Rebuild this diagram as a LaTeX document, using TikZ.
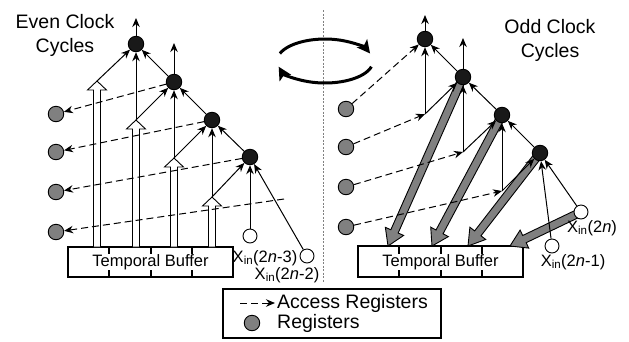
\documentclass[tikz,border=0pt]{standalone}
\usepackage{fontspec}
\setmainfont{Liberation Sans}
\usetikzlibrary{arrows.meta,calc}
\definecolor{regfill}{gray}{0.5}
\definecolor{nodefill}{gray}{0.1}
\pgfdeclarelayer{bg}
\pgfsetlayers{bg,main}
% #1 start, #2 end, #3 fill, #4 shaft half width, #5 head half width, #6 head length
\newcommand{\fatarrow}[6]{%
  \coordinate (fah) at ($(#2)!#6!(#1)$);
  \filldraw[fill=#3,draw=black,line width=0.9pt,line join=miter]
   ($(#1)!#4!90:(#2)$) -- ($(fah)!#4!90:(#2)$) -- ($(fah)!#5!90:(#2)$) -- (#2)
   -- ($(fah)!#5!-90:(#2)$) -- ($(fah)!#4!-90:(#2)$) -- ($(#1)!#4!-90:(#2)$) -- cycle;}
\tikzset{
 blk/.style={circle, fill=nodefill, draw=black, line width=0.9pt, minimum size=15.5pt, inner sep=0pt},
 reg/.style={circle, fill=regfill, draw=black, line width=0.9pt, minimum size=15.5pt, inner sep=0pt},
 inp/.style={circle, fill=white, draw=black, line width=0.9pt, minimum size=14pt, inner sep=0pt},
 arr/.style={line width=1pt, -{Stealth[length=9pt,width=7.5pt]}},
 acc/.style={arr, dash pattern=on 7pt off 4pt},
 lbl/.style={font=\fontsize{16.5}{19}\selectfont, inner sep=0pt},
 ttl/.style={font=\fontsize{19.5}{24}\selectfont, inner sep=0pt, anchor=base},
 buf/.style={font=\fontsize{16.5}{19}\selectfont, inner sep=0pt, fill=white},
 cyc/.style={line width=3pt, -{Stealth[length=13pt,width=13pt,inset=3pt]}},
}
\begin{document}
\begin{tikzpicture}[x=1pt,y=-1pt]
\useasboundingbox (0,0) rectangle (629,341);
% ---------------- titles
\node[ttl] (tl1) at (65,28) {Even Clock};
\node[ttl] (tl2) at (65,52) {Cycles};
\node[ttl] (tr1) at (550,33) {Odd Clock};
\node[ttl] (tr2) at (550,57) {Cycles};
% ---------------- divider
\draw[gray, line width=0.9pt, dash pattern=on 2pt off 1.5pt] (323,10) -- (323,282);
% ---------------- cycle arrows
\draw[cyc] (279.9,53.5) arc[start angle=160, end angle=20, x radius=48pt, y radius=22pt];
\draw[cyc] (371.4,66.7) arc[start angle=-15, end angle=-165, x radius=48pt, y radius=22pt];
% ---------------- left side nodes
\node[blk] (b1) at (136,44) {};
\node[blk] (b2) at (174,82) {};
\node[blk] (b3) at (212,120) {};
\node[blk] (b4) at (250,157) {};
\node[reg] (g1) at (56,114) {};
\node[reg] (g2) at (56,152) {};
\node[reg] (g3) at (56,192) {};
\node[reg] (g4) at (56,232) {};
\node[inp] (i3) at (250,236) {};
\node[inp] (i2) at (307,256) {};
\coordinate (u1) at (136,18);
\coordinate (u2) at (174,43);
\coordinate (h1) at (97,81);
\coordinate (h2) at (136,120);
\coordinate (h3) at (174,158);
\coordinate (h4) at (212,197);
\coordinate (hb1) at (97,247);
\coordinate (hb2) at (136,247);
\coordinate (hb3) at (174,247);
\coordinate (hb4) at (212,247);
\coordinate (df) at (284,199);
% ---------------- right side nodes
\node[blk] (r1) at (425,39) {};
\node[blk] (r2) at (463,77) {};
\node[blk] (r3) at (502,115) {};
\node[blk] (r4) at (540,153) {};
\node[reg] (q1) at (346,109) {};
\node[reg] (q2) at (346,147) {};
\node[reg] (q3) at (346,187) {};
\node[reg] (q4) at (346,227) {};
\node[inp] (ri1) at (581,212) {};
\node[inp] (ri2) at (552,246) {};
\coordinate (ru1) at (425,15);
\coordinate (ru2) at (463,38);
\coordinate (j1) at (425,114);
\coordinate (j2) at (463,152);
\coordinate (j3) at (502,191);
\coordinate (f2) at (388,246);
\coordinate (f3) at (432,246);
\coordinate (f4) at (468,246);
\coordinate (f5) at (510,246);
% ---------------- background: buffers and fat arrows
\begin{pgfonlayer}{bg}
  \draw[line width=1.1pt] (68,247) rectangle (233,277);
  \foreach \x in {109,151,192} \draw[line width=1.1pt] (\x,247) -- (\x,277);
  \node[buf] (lbuf) at (150.5,262) {Temporal Buffer};
  \draw[line width=1.1pt] (358,246) rectangle (523,277);
  \foreach \x in {399,441,482} \draw[line width=1.1pt] (\x,246) -- (\x,277);
  \node[buf] (rbuf) at (440.5,262) {Temporal Buffer};
  \fatarrow{hb1}{h1}{white}{3.5pt}{9.5pt}{9pt}
  \fatarrow{hb2}{h2}{white}{3.5pt}{9.5pt}{9pt}
  \fatarrow{hb3}{h3}{white}{3.5pt}{9.5pt}{9pt}
  \fatarrow{hb4}{h4}{white}{3.5pt}{9.5pt}{9pt}
  \fatarrow{r2.center}{f2}{regfill}{4pt}{10pt}{16pt}
  \fatarrow{r3.center}{f3}{regfill}{4pt}{10pt}{16pt}
  \fatarrow{r4.center}{f4}{regfill}{4pt}{10pt}{16pt}
  \fatarrow{ri1.center}{f5}{regfill}{4pt}{10pt}{16pt}
\end{pgfonlayer}
% ---------------- left thin arrows
\draw[arr] (b1) -- (u1);
\draw[arr] (b2) -- (u2);
\draw[arr] (h1) -- (b1);
\draw[arr] (h2) -- (b1);
\draw[arr] (b2) -- (b1);
\draw[arr] (h2) -- (b2);
\draw[arr] (h3) -- (b2);
\draw[arr] (b3) -- (b2);
\draw[arr] (h3) -- (b3);
\draw[arr] (h4) -- (b3);
\draw[arr] (b4) -- (b3);
\draw[arr] (h4) -- (b4);
\draw[arr] (i3) -- (b4);
\draw[arr] (i2) -- (b4);
\draw[acc] (b2) -- (g1);
\draw[acc] (b3) -- (g2);
\draw[acc] (b4) -- (g3);
\draw[acc] (df) -- (g4);
% ---------------- right thin arrows
\draw[arr] (r1) -- (ru1);
\draw[arr] (r2) -- (ru2);
\draw[acc] (q1) -- (r1);
\draw[arr] (j1) -- (r1);
\draw[arr] (r2) -- (r1);
\draw[acc] (q2) -- (j1);
\draw[arr] (j1) -- (r2);
\draw[arr] (j2) -- (r2);
\draw[arr] (r3) -- (r2);
\draw[acc] (q3) -- (j2);
\draw[arr] (j2) -- (r3);
\draw[arr] (j3) -- (r3);
\draw[arr] (r4) -- (r3);
\draw[acc] (q4) -- (j3);
\draw[arr] (j3) -- (r4);
\draw[arr] (ri2) -- (r4);
\draw[arr] (ri1) -- (r4);
% ---------------- labels
\node[lbl] (x3) at (265,258) {X\textsubscript{in}(2\textit{n}-3)};
\node[lbl] (x2) at (287,275) {X\textsubscript{in}(2\textit{n}-2)};
\node[lbl] (x0) at (592,228) {X\textsubscript{in}(2\textit{n})};
\node[lbl] (x1) at (573,262) {X\textsubscript{in}(2\textit{n}-1)};
% ---------------- legend
\draw[line width=1.1pt] (223,289) rectangle (441,338);
\coordinate (la) at (240,303);
\coordinate (lb) at (275,303);
\draw[acc] (la) -- (lb);
\node[ttl, anchor=west] (lt1) at (277,303) {Access Registers};
\node[reg] (lg) at (252,323) {};
\node[ttl, anchor=west] (lt2) at (277,323) {Registers};
\end{tikzpicture}
\end{document}
